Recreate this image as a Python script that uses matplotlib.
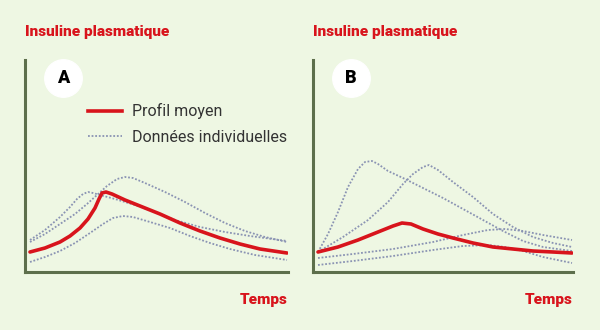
import numpy as np
import matplotlib.pyplot as plt
from matplotlib.lines import Line2D

# arbitrary units: time 0..263, insulin 0..212
# panel A
tA_red = [5, 20, 35, 45, 55, 63, 70, 74, 77, 81, 87, 100, 115, 135, 155, 175, 195, 215, 235, 262]
yA_red = [20, 24, 30, 36, 44, 53, 64, 73, 79, 80, 78, 72, 66, 58, 49, 41, 34, 28, 23, 19]
tA_1 = [5, 20, 35, 50, 62, 72, 82, 92, 100, 108, 120, 140, 160, 180, 200, 220, 240, 262]
yA_1 = [30, 38, 48, 58, 68, 77, 86, 93, 95, 94, 89, 80, 70, 59, 49, 41, 35, 30]
tA_2 = [5, 20, 35, 45, 52, 58, 63, 68, 75, 90, 110, 130, 150, 175, 200, 225, 262]
yA_2 = [32, 42, 55, 65, 73, 78, 80, 79, 77, 73, 67, 60, 52, 45, 40, 36, 31]
tA_3 = [5, 20, 35, 50, 65, 78, 88, 98, 108, 125, 145, 165, 185, 205, 230, 262]
yA_3 = [10, 15, 21, 29, 39, 48, 54, 56, 55, 50, 44, 36, 29, 23, 17, 12]

# panel B
tB_red = [5, 25, 45, 65, 80, 89, 98, 110, 125, 140, 160, 180, 200, 220, 240, 259]
yB_red = [20, 25, 32, 40, 46, 49, 48, 43, 38, 34, 29, 25, 23, 21, 20, 19]
tB_1 = [5, 15, 25, 35, 45, 52, 59, 65, 75, 90, 110, 130, 150, 170, 190, 210, 230, 259]
yB_1 = [20, 38, 60, 85, 103, 110, 111, 108, 101, 94, 84, 74, 63, 52, 41, 31, 25, 21]
tB_2 = [5, 30, 55, 75, 90, 100, 110, 116, 125, 140, 160, 180, 200, 220, 240, 259]
yB_2 = [20, 35, 52, 70, 88, 98, 105, 107, 102, 90, 75, 58, 45, 35, 29, 25]
tB_3 = [5, 40, 80, 120, 150, 175, 192, 210, 230, 259]
yB_3 = [14, 18, 23, 30, 37, 42, 43, 41, 37, 32]
tB_4 = [5, 40, 80, 120, 150, 175, 192, 210, 230, 259]
yB_4 = [7, 11, 16, 22, 26, 27, 25, 21, 15, 9]

bg = '#eef7e3'
axis_col = '#5d6f4c'
red = '#d8141c'
dot_col = '#8a93b3'
font = ['Roboto', 'DejaVu Sans']

fig = plt.figure(figsize=(6, 3.3), dpi=100, facecolor=bg)

def panel(left, width, letter, red_t, red_y, others):
    ax = fig.add_axes([left / 600, (330 - 272) / 330, width / 600, 212 / 330])
    ax.set_facecolor(bg)
    for t, y in others:
        ax.plot(t, y, color=dot_col, lw=1.3, ls=(0, (1, 1)))
    ax.plot(red_t, red_y, color=red, lw=2.6, solid_capstyle='round',
            solid_joinstyle='round')
    ax.set_xlim(0, width)
    ax.set_ylim(0, 212)
    ax.set_xticks([])
    ax.set_yticks([])
    for s in ['top', 'right']:
        ax.spines[s].set_visible(False)
    for s in ['left', 'bottom']:
        ax.spines[s].set_color(axis_col)
        ax.spines[s].set_linewidth(2.2)
    ax.plot([38 / width], [(272 - 78) / 212], 'o', ms=27, color='white',
            transform=ax.transAxes, clip_on=False)
    ax.text(38 / width, (272 - 78) / 212, letter, transform=ax.transAxes,
            ha='center', va='center', fontsize=13, fontweight='black',
            color='black', family=font)
    ax.text(0, 1.13, 'Insuline plasmatique', transform=ax.transAxes,
            ha='left', va='center', fontsize=11, fontweight='black', color=red,
            family=font)
    ax.text(1, -0.13, 'Temps', transform=ax.transAxes,
            ha='right', va='center', fontsize=11, fontweight='black', color=red,
            family=font)
    return ax

axA = panel(25, 263, 'A', tA_red, yA_red,
            [(tA_1, yA_1), (tA_2, yA_2), (tA_3, yA_3)])
axB = panel(313, 260, 'B', tB_red, yB_red,
            [(tB_1, yB_1), (tB_2, yB_2), (tB_3, yB_3), (tB_4, yB_4)])

handles = [Line2D([], [], color=red, lw=2.6),
           Line2D([], [], color=dot_col, lw=1.3, ls=(0, (1, 1)))]
leg = axA.legend(handles, ['Profil moyen', 'Données individuelles'],
                 loc='upper left', bbox_to_anchor=(57 / 263, (272 - 97) / 212),
                 frameon=False, handlelength=2.1, handletextpad=0.6,
                 labelspacing=0.65, borderaxespad=0,
                 prop={'family': font, 'size': 11.5})
for txt in leg.get_texts():
    txt.set_color('#333333')

fig.savefig('out.png', dpi=100, facecolor=bg)
